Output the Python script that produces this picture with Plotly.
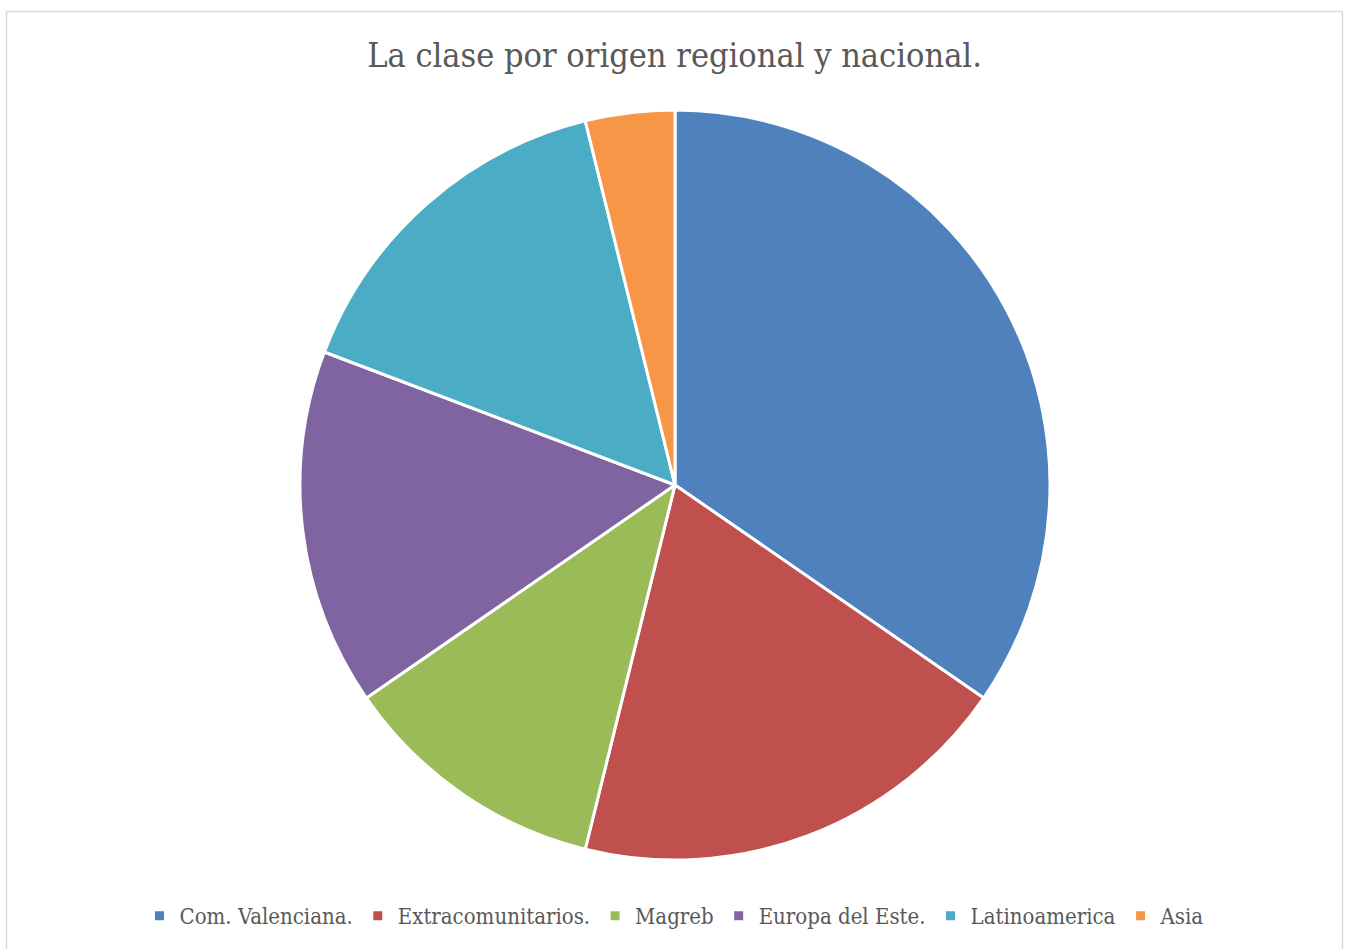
import plotly.graph_objects as go

categories = ["Com. Valenciana.", "Extracomunitarios.", "Magreb", "Europa del Este.", "Latinoamerica", "Asia"]
values = [9, 5, 3, 4, 4, 1]
colors = ["#4F81BD", "#C0504D", "#9BBB59", "#8064A2", "#4BACC6", "#F79646"]
title_text = "La clase por origen regional y nacional."

W, H = 1349, 949
cx, cy, r = 675, 485, 375

fig = go.Figure(go.Pie(
    labels=categories,
    values=values,
    sort=False,
    direction="clockwise",
    rotation=0,
    textinfo="none",
    hoverinfo="label+value+percent",
    marker=dict(colors=colors, line=dict(color="white", width=3)),
    domain=dict(x=[(cx - r) / W, (cx + r) / W], y=[(H - cy - r) / H, (H - cy + r) / H]),
))

fig.update_layout(
    width=W, height=H,
    margin=dict(l=0, r=0, t=0, b=0),
    paper_bgcolor="white",
    plot_bgcolor="white",
    font=dict(family="DejaVu Serif Condensed, DejaVu Serif, serif", color="#595959"),
    title=dict(text=title_text, x=0.5, xanchor="center", y=1 - 55 / H, yanchor="middle",
               font=dict(size=34, color="#595959")),
    showlegend=True,
    legend=dict(orientation="h", x=0.5, xanchor="center", y=1 - 916 / H, yanchor="middle",
                font=dict(size=22, color="#595959"), itemwidth=30, traceorder="normal"),
    shapes=[dict(type="rect", xref="paper", yref="paper",
                 x0=6.5 / W, x1=1342.5 / W, y0=-0.05, y1=1 - 11.5 / H,
                 line=dict(color="#D9D9D9", width=1.5), fillcolor="rgba(0,0,0,0)", layer="below")],
)

fig.write_html("out.html", config={"displayModeBar": False},
               post_script="document.body.style.margin='0';document.body.style.overflow='hidden';")
